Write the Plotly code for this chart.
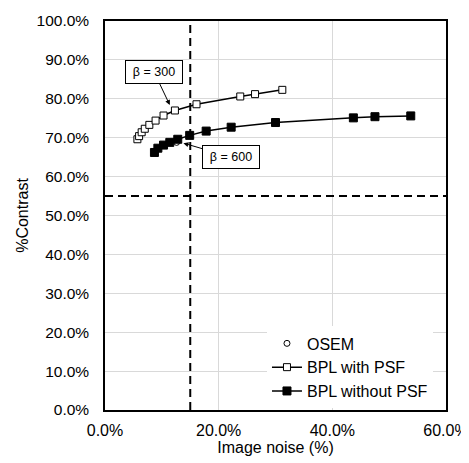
import plotly.graph_objects as go

# Data (percent units)
psf_noise = [5.7, 6.0, 6.45, 7.0, 7.8, 8.9, 10.3, 12.3, 16.1, 23.8, 26.4, 31.2]
psf_contrast = [69.6, 70.4, 71.4, 72.3, 73.3, 74.4, 75.7, 77.0, 78.6, 80.6, 81.2, 82.3]

nopsf_noise = [8.7, 9.3, 10.3, 11.4, 12.8, 14.9, 17.8, 22.2, 30.0, 43.7, 47.5, 53.8]
nopsf_contrast = [66.2, 67.3, 68.1, 68.8, 69.6, 70.6, 71.7, 72.7, 73.9, 75.1, 75.4, 75.6]

osem_noise = [12.6]
osem_contrast = [68.8]

noise_limit = 15.0
contrast_limit = 55.0

x_ticks = [0, 20, 40, 60]
y_ticks = [0, 10, 20, 30, 40, 50, 60, 70, 80, 90, 100]
x_ticktext = [f"{v:.1f}%" for v in x_ticks]
y_ticktext = [f"{v:.1f}%" for v in y_ticks]

FONT = "Liberation Sans, Arial, sans-serif"

fig = go.Figure()

# reference dashed lines
fig.add_trace(go.Scatter(x=[noise_limit, noise_limit], y=[0, 100], mode="lines",
                         line=dict(color="black", width=2, dash="8px,5px"),
                         showlegend=False, hoverinfo="skip"))
fig.add_trace(go.Scatter(x=[0, 60], y=[contrast_limit, contrast_limit], mode="lines",
                         line=dict(color="black", width=2, dash="8px,5px"),
                         showlegend=False, hoverinfo="skip"))

fig.add_trace(go.Scatter(x=osem_noise, y=osem_contrast, mode="markers", name="OSEM",
                         marker=dict(symbol="circle-open", size=6, color="black",
                                     line=dict(width=1, color="black"))))
fig.add_trace(go.Scatter(x=psf_noise, y=psf_contrast, mode="lines+markers", name="BPL with PSF",
                         line=dict(color="black", width=1.5),
                         marker=dict(symbol="square", size=7, color="white",
                                     line=dict(width=1, color="black"))))
fig.add_trace(go.Scatter(x=nopsf_noise, y=nopsf_contrast, mode="lines+markers", name="BPL without PSF",
                         line=dict(color="black", width=1.5),
                         marker=dict(symbol="square", size=8, color="black",
                                     line=dict(width=1, color="black"))))

ann_common = dict(xref="x", yref="y", axref="x", ayref="y", showarrow=True,
                  arrowhead=2, arrowsize=1, arrowwidth=1, arrowcolor="black",
                  bgcolor="white", bordercolor="black", borderwidth=1, borderpad=3,
                  width=50, height=16,
                  font=dict(family=FONT, size=12.5, color="black"))
fig.add_annotation(text="β = 300", x=11.4, y=78.4, ax=8.6, ay=87.0, **ann_common)
fig.add_annotation(text="β = 600", x=13.8, y=68.6, ax=22.2, ay=65.0, **ann_common)

fig.update_xaxes(range=[0, 60], tickmode="array", tickvals=x_ticks, ticktext=x_ticktext,
                 showgrid=True, gridcolor="#d9d9d9", gridwidth=1,
                 showline=True, linecolor="black", linewidth=1.5, mirror=True,
                 ticks="outside", ticklen=5, tickcolor="rgba(0,0,0,0)",
                 zeroline=False, automargin=False,
                 title=dict(text="Image noise (%)", font=dict(family=FONT, size=16, color="black"),
                            standoff=2),
                 tickfont=dict(family=FONT, size=16, color="black"))
fig.update_yaxes(range=[0, 100], tickmode="array", tickvals=y_ticks, ticktext=y_ticktext,
                 showgrid=True, gridcolor="#d9d9d9", gridwidth=1,
                 showline=True, linecolor="black", linewidth=1.5, mirror=True,
                 ticks="outside", ticklen=11, tickcolor="rgba(0,0,0,0)",
                 zeroline=False, automargin=False,
                 title=dict(text="%Contrast", font=dict(family=FONT, size=16, color="black"),
                            standoff=4),
                 tickfont=dict(family=FONT, size=15.5, color="black"))

# page body has an 8px margin, so margins are offset accordingly
fig.update_layout(
    width=469, height=463,
    margin=dict(l=97, r=31, t=13, b=61),
    plot_bgcolor="white", paper_bgcolor="white",
    font=dict(family=FONT, size=16, color="black"),
    legend=dict(x=0.475, y=0.004, xanchor="left", yanchor="bottom",
                bgcolor="white", borderwidth=0,
                font=dict(family=FONT, size=16, color="black"),
                itemwidth=30, tracegroupgap=0),
)

fig.write_html("out.html")
